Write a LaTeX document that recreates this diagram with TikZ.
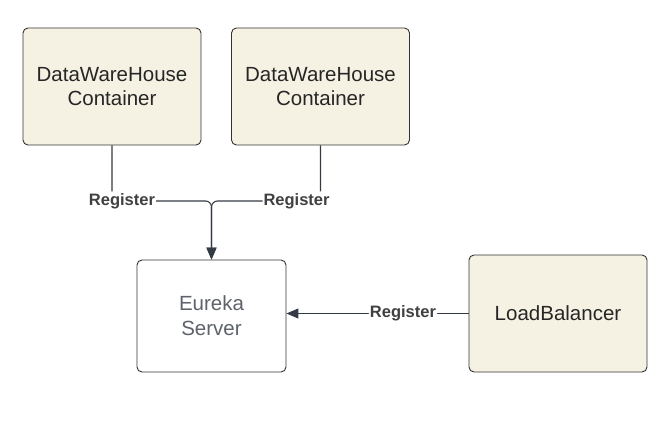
\documentclass[tikz,border=0pt]{standalone}
\usepackage{fontspec}
\setmainfont{Liberation Sans}
\usetikzlibrary{positioning}
\usetikzlibrary{arrows.meta}
\definecolor{boxfill}{HTML}{F6F2E3}
\definecolor{boxline}{HTML}{333333}
\definecolor{linkcol}{HTML}{353B44}
\definecolor{srvtext}{HTML}{5E636B}
\tikzset{
container/.style={ % cream boxes
draw=boxline, fill=boxfill, rounded corners=5pt, line width=0.9pt,
minimum width=178pt, minimum height=117pt,
align=center, font=\fontsize{20.5}{24}\selectfont, text=black!85},
server/.style={ % white box
draw=boxline, fill=white, rounded corners=5pt, line width=0.9pt,
minimum width=149pt, minimum height=112pt,
align=center, font=\fontsize{20.5}{25}\selectfont, text=srvtext},
link/.style={ % connectors
draw=linkcol, line width=1.1pt, rounded corners=6pt,
-{Triangle[length=12pt,width=10pt]}},
tag/.style={ % labels on connectors
fill=white, inner xsep=1pt, inner ysep=2pt, text=black!75,
font=\fontsize{16.5}{18}\selectfont\bfseries}}

\begin{document}
\begin{tikzpicture}[x=1pt,y=-1pt]
	\useasboundingbox (0,0) rectangle (667,422);
	\node[container] (dw1) at (112,86.5) {DataWareHouse\\Container};
	\node[container] (dw2) at (320.5,86.5) {DataWareHouse\\Container};
	\node[server] (eureka) at (211.5,316) {Eureka\\Server};
	\node[container] (lb) at (558,313.5) {LoadBalancer};
	\coordinate (join) at (211.5,201);
	\draw[link] (dw1.south) |- node[tag, pos=0.55]{Register} (join) -- (eureka.north);
	\draw[link] (dw2.south) |- node[tag, pos=0.61]{Register} (join) -- (eureka.north);
	\draw[link] (lb.west) -- node[tag, pos=0.36]{Register} (eureka.east |- lb.west);
\end{tikzpicture}
\end{document}
